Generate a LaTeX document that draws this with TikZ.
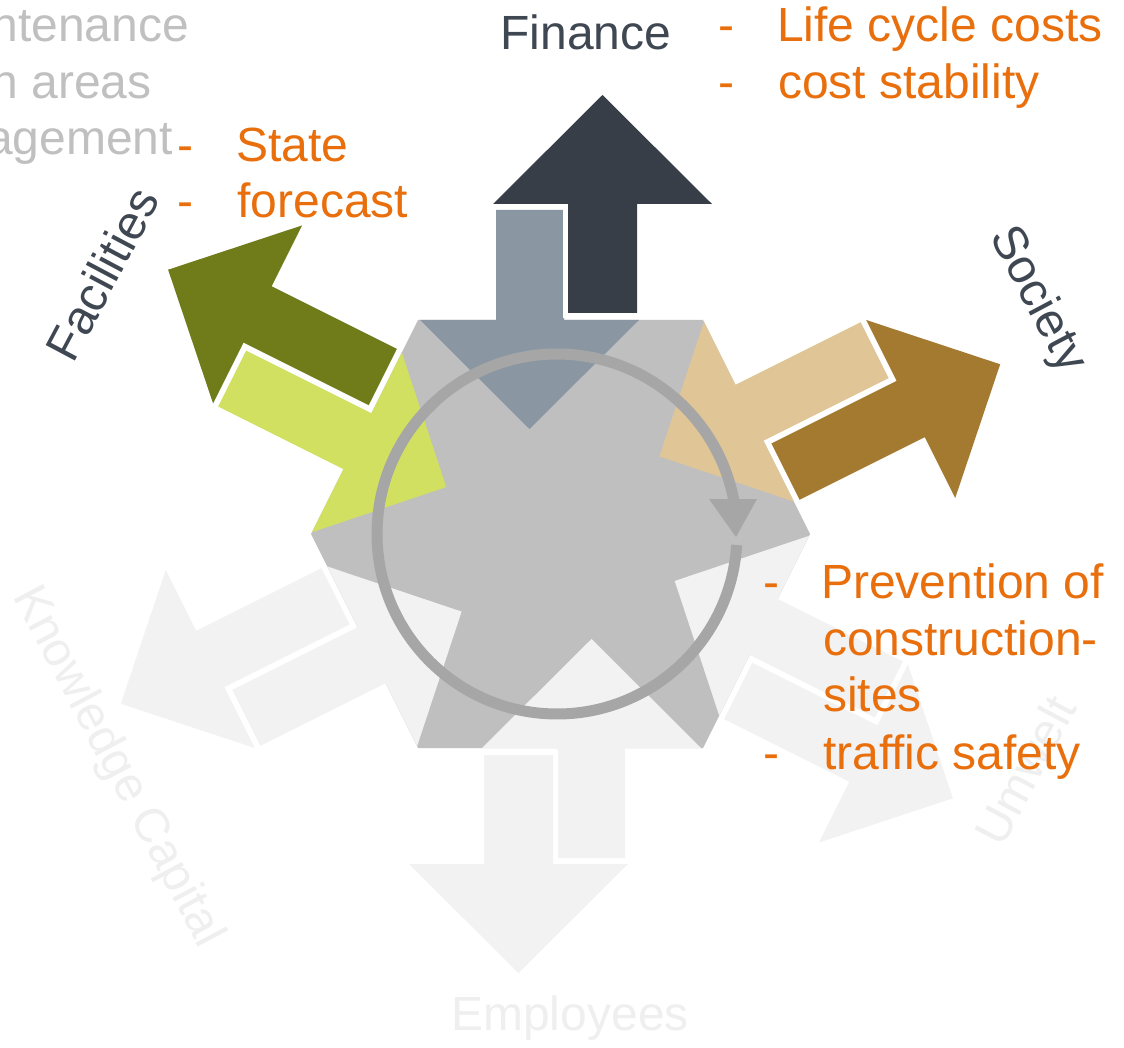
\documentclass[tikz,border=0pt]{standalone}
\usepackage{fontspec}
\setmainfont{Liberation Sans}
\definecolor{hexc}{HTML}{BFBFBF}
\definecolor{ringc}{HTML}{A6A6A6}
\definecolor{findark}{HTML}{373E47}
\definecolor{finlight}{HTML}{8A97A3}
\definecolor{facdark}{HTML}{6F7C19}
\definecolor{faclight}{HTML}{D1E061}
\definecolor{socdark}{HTML}{A47A31}
\definecolor{soclight}{HTML}{E0C597}
\definecolor{pale}{HTML}{F2F2F2}
\definecolor{orangetxt}{HTML}{E96E0C}
\definecolor{graytxt}{HTML}{C0C0C0}
\definecolor{labeltxt}{HTML}{3F4752}
\definecolor{paletxt}{HTML}{EFEFEF}
\newcommand\setsector[6]{\def\Ax{#1}\def\Ay{#2}\def\Ux{#3}\def\Uy{#4}\def\Vx{#5}\def\Vy{#6}}
\newcommand\secpt[2]{({\Ax+(#1)*(\Ux)+(#2)*(\Vx)},{\Ay+(#1)*(\Uy)+(#2)*(\Vy)})}
% horizontal sectors (top / bottom edge)
\newcommand\hzin[1]{\fill[#1] \secpt{78}{110} -- \secpt{146}{110} -- \secpt{146}{0} -- \secpt{221}{0} -- \secpt{111.5}{-109} -- \secpt{2}{0} -- \secpt{78}{0} -- cycle;}
\newcommand\hzout[1]{\path[outarrow=#1] \secpt{150}{7} -- \secpt{219}{7} -- \secpt{219}{116} -- \secpt{294}{116} -- \secpt{184.5}{225} -- \secpt{75}{116} -- \secpt{150}{116} -- cycle;}
% slanted sectors
\newcommand\slin[1]{\fill[#1] \secpt{72.5}{140} -- \secpt{135}{140} -- \secpt{135}{0} -- \secpt{203}{0} -- \secpt{102.5}{-100} -- \secpt{2}{0} -- \secpt{72.5}{0} -- cycle;}
\newcommand\slout[1]{\path[outarrow=#1] \secpt{141}{6} -- \secpt{204}{6} -- \secpt{204}{146} -- \secpt{272}{146} -- \secpt{172.5}{246} -- \secpt{73}{146} -- \secpt{141}{146} -- cycle;}
\tikzset{
  outarrow/.style={fill=#1, preaction={draw=white, line width=10pt, line join=miter}},
  txt/.style={font=\fontsize{48}{57}\selectfont, inner sep=0pt, outer sep=0pt},
  orange/.style={txt, text=orangetxt, anchor=base west},
  grayt/.style={txt, text=graytxt, anchor=base east},
  lbl/.style={txt, text=labeltxt},
  palelbl/.style={txt, text=paletxt},
}
\begin{document}
\begin{tikzpicture}[x=1pt,y=-1pt]
\useasboundingbox (0,0) rectangle (1124,1048);
\fill[white] (0,0) rectangle (1124,1048);
% hexagon
\fill[hexc] (418,320) -- (703,320) -- (810,534) -- (703,748) -- (418,748) -- (311,534) -- cycle;
% incoming arrows
\setsector{418}{320}{1}{0}{0}{-1}\hzin{finlight}
\setsector{703}{748}{-1}{0}{0}{1}\hzin{pale}
\setsector{311}{534}{0.4472}{-0.8944}{-0.8944}{-0.4472}\slin{faclight}
\setsector{703}{320}{0.4472}{0.8944}{0.8944}{-0.4472}\slin{soclight}
\setsector{810}{534}{-0.4472}{0.8944}{0.8944}{0.4472}\slin{pale}
\setsector{418}{748}{-0.4472}{-0.8944}{-0.8944}{0.4472}\slin{pale}
% outgoing arrows
\setsector{418}{320}{1}{0}{0}{-1}\hzout{findark}
\setsector{703}{748}{-1}{0}{0}{1}\hzout{pale}
\setsector{311}{534}{0.4472}{-0.8944}{-0.8944}{-0.4472}\slout{facdark}
\setsector{703}{320}{0.4472}{0.8944}{0.8944}{-0.4472}\slout{socdark}
\setsector{810}{534}{-0.4472}{0.8944}{0.8944}{0.4472}\slout{pale}
\setsector{418}{748}{-0.4472}{-0.8944}{-0.8944}{0.4472}\slout{pale}
% cycle arrow
\coordinate (cc) at (557,534);
\draw[ringc, line width=11pt] (cc) ++(3.5:180) arc[start angle=3.5, end angle=349, radius=180];
\fill[ringc] (709,499) -- (757,499) -- (736,537) -- cycle;
% labels
\node[lbl, anchor=base] (fin) at (586,50) {Finance};
\node[lbl, rotate=62] (fac) at (102,274) {Facilities};
\node[lbl, rotate=-62] (soc) at (1037,300) {Society};
\node[palelbl, rotate=-62] (know) at (117,767) {Knowledge Capital};
\node[palelbl, rotate=62] (umw) at (1025,770) {Umwelt};
\node[palelbl, anchor=base] (emp) at (570,1030) {Employees};
% gray cut texts
\node[grayt] (g1) at (189,41.7) {ntenance};
\node[grayt] (g2) at (151.5,98.3) {n areas};
\node[grayt] (g3) at (173,155) {agement};
% orange texts
\node[orange] (d1) at (718,41.7) {-};
\node[orange] (t1) at (777,41.7) {Life cycle costs};
\node[orange] (d2) at (718,98.3) {-};
\node[orange] (t2) at (778,98.3) {cost stability};
\node[orange] (d3) at (177,161.7) {-};
\node[orange] (t3) at (236.5,161.7) {State};
\node[orange] (d4) at (177,218) {-};
\node[orange] (t4) at (237.5,218) {forecast};
\node[orange] (d5) at (763,598) {-};
\node[orange] (t5) at (821,598) {Prevention of};
\node[orange] (t6) at (823,655) {construction-};
\node[orange] (t7) at (823,711.7) {sites};
\node[orange] (d6) at (763,769) {-};
\node[orange] (t8) at (823,769) {traffic safety};
\end{tikzpicture}
\end{document}
